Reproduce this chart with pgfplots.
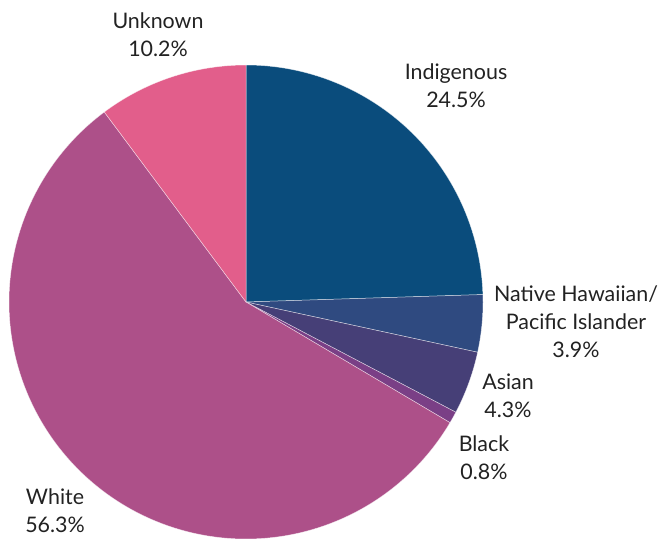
\documentclass[border=0pt]{standalone}
\usepackage{pgfplots}
\pgfplotsset{compat=1.18}
\usepackage{fontspec}
\setmainfont{Lato}
\definecolor{cInd}{HTML}{0A4C7C}
\definecolor{cNH}{HTML}{2F4A80}
\definecolor{cAs}{HTML}{463F77}
\definecolor{cBl}{HTML}{7A3F86}
\definecolor{cWh}{HTML}{AD5089}
\definecolor{cUn}{HTML}{E25E8B}
\definecolor{txt}{HTML}{222222}
\tikzset{lbl/.style={font=\fontsize{21.5}{28}\selectfont, text=txt, align=center, anchor=center, inner sep=0pt}}
\begin{document}
\begin{tikzpicture}
\path[use as bounding box] (0,0) rectangle (659bp,539bp);
\begin{axis}[at={(0,0)}, anchor=south west,
  scale only axis, width=659bp, height=539bp,
  xmin=0, xmax=659, ymin=0, ymax=539, y dir=reverse,
  hide axis, clip=false,
  every axis plot/.append style={draw=white, draw opacity=0.6, line width=0.5bp, samples=80, smooth}]
% percentages: Indigenous 24.5, NH/PI 3.9, Asian 4.3, Black 0.8, White 56.3, Unknown 10.2
\addplot[fill=cInd, domain={90-3.6*24.5}:90] ({246+237*cos(x)},{302-237*sin(x)}) -- (axis cs:246,302) -- cycle;
\addplot[fill=cNH, domain={90-3.6*28.4}:{90-3.6*24.5}] ({246+237*cos(x)},{302-237*sin(x)}) -- (axis cs:246,302) -- cycle;
\addplot[fill=cAs, domain={90-3.6*32.7}:{90-3.6*28.4}] ({246+237*cos(x)},{302-237*sin(x)}) -- (axis cs:246,302) -- cycle;
\addplot[fill=cBl, domain={90-3.6*33.5}:{90-3.6*32.7}, samples=5] ({246+237*cos(x)},{302-237*sin(x)}) -- (axis cs:246,302) -- cycle;
\addplot[fill=cWh, domain={90-3.6*89.8}:{90-3.6*33.5}, samples=150] ({246+237*cos(x)},{302-237*sin(x)}) -- (axis cs:246,302) -- cycle;
\addplot[fill=cUn, domain={90-3.6*100}:{90-3.6*89.8}] ({246+237*cos(x)},{302-237*sin(x)}) -- (axis cs:246,302) -- cycle;
\node[lbl] at (axis cs:456,86) {Indigenous\\24.5\%};
\node[lbl] at (axis cs:576,322) {Native Hawaiian/\\Pacific Islander\\3.9\%};
\node[lbl] at (axis cs:508,396) {Asian\\4.3\%};
\node[lbl] at (axis cs:484,458) {Black\\0.8\%};
\node[lbl] at (axis cs:55,511) {White\\56.3\%};
\node[lbl] at (axis cs:158,35) {Unknown\\10.2\%};
\end{axis}
\end{tikzpicture}
\end{document}
